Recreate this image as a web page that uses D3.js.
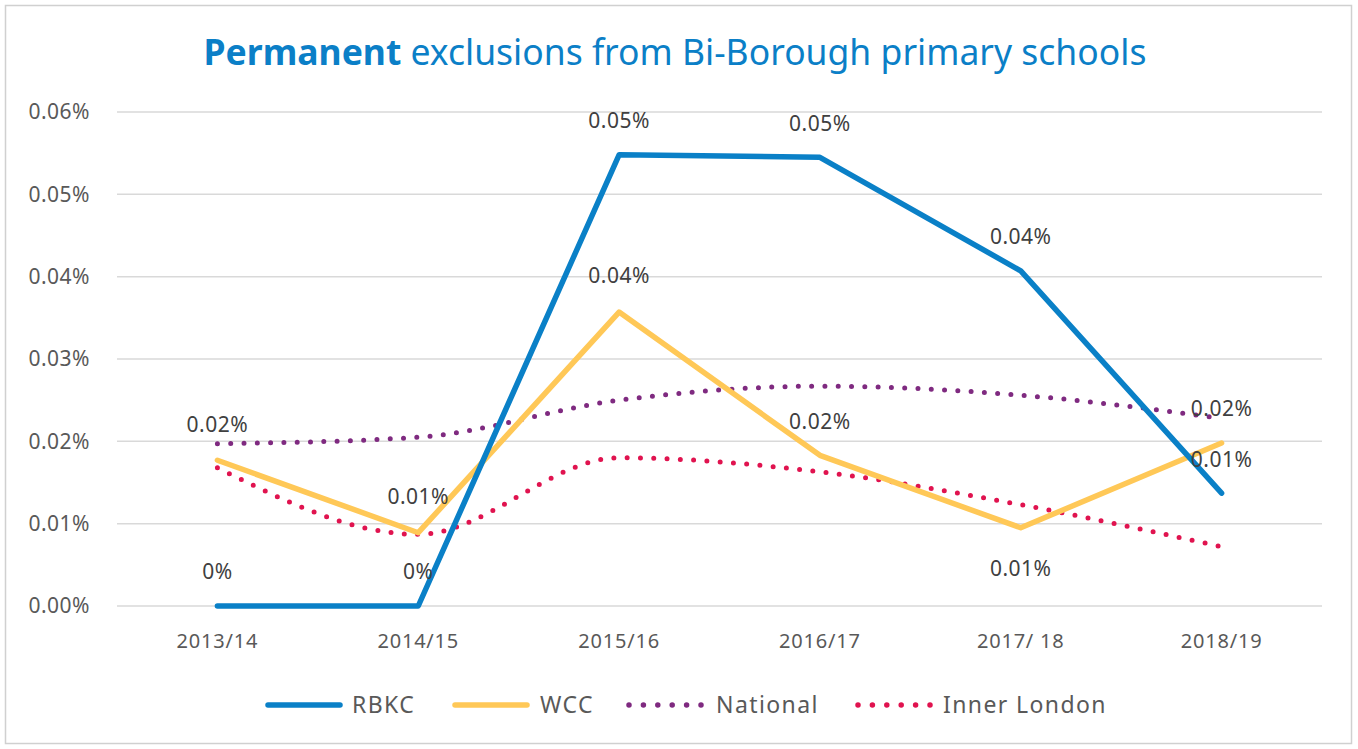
<!DOCTYPE html>
<html>
<head>
<meta charset="utf-8">
<script src="https://cdn.jsdelivr.net/npm/d3@7"></script>
<style>
  body { margin: 0; background: #fff; }
  svg { font-family: "Noto Sans", "Open Sans", sans-serif; }
</style>
</head>
<body>
<div id="chart"></div>
<script>
// data (values in %)
const years = ["2013/14", "2014/15", "2015/16", "2016/17", "2017/ 18", "2018/19"];
const rbkc = [0, 0, 0.0548, 0.0545, 0.0407, 0.0137];
const wcc = [0.0177, 0.0089, 0.0357, 0.0183, 0.0095, 0.0198];
const national = [0.0197, 0.0205, 0.0250, 0.0267, 0.0256, 0.0228];
const innerLondon = [0.0168, 0.0087, 0.0180, 0.0163, 0.0123, 0.0072];
const rbkcLabels = ["0%", "0%", "0.05%", "0.05%", "0.04%", "0.01%"];
const wccLabels = ["0.02%", "0.01%", "0.04%", "0.02%", "0.01%", "0.02%"];
const yTicks = [0, 0.01, 0.02, 0.03, 0.04, 0.05, 0.06];

const W = 1358, H = 749;
const margin = { top: 112, right: 36, bottom: 143, left: 117 };

const svg = d3.select("#chart").append("svg")
  .attr("width", W)
  .attr("height", H);

svg.append("rect")
  .attr("x", 5.5).attr("y", 5.5)
  .attr("width", W - 12).attr("height", H - 11)
  .attr("fill", "#fff")
  .attr("stroke", "#d0d0d0")
  .attr("stroke-width", 1.5);

const x = d3.scalePoint()
  .domain(years)
  .range([margin.left, W - margin.right])
  .padding(0.5);

const y = d3.scaleLinear()
  .domain([0, 0.06])
  .range([H - margin.bottom, margin.top]);

// title
const title = svg.append("text")
  .attr("x", 675).attr("y", 65)
  .attr("text-anchor", "middle")
  .attr("font-size", 35.5)
  .attr("fill", "#0b7fc7");
title.append("tspan").attr("font-weight", "bold").text("Permanent");
title.append("tspan").text(" exclusions from Bi-Borough primary schools");

// gridlines
svg.append("g").selectAll("line")
  .data(yTicks)
  .enter().append("line")
  .attr("x1", margin.left).attr("x2", W - margin.right)
  .attr("y1", d => y(d)).attr("y2", d => y(d))
  .attr("stroke", "#d9d9d9")
  .attr("stroke-width", 1.5);

// y axis labels
svg.append("g").selectAll("text")
  .data(yTicks)
  .enter().append("text")
  .attr("x", 90)
  .attr("y", d => y(d))
  .attr("dy", "0.35em")
  .attr("text-anchor", "end")
  .attr("font-size", 21)
  .attr("letter-spacing", 0.5)
  .attr("fill", "#595959")
  .text(d => d.toFixed(2) + "%");

// x axis labels
svg.append("g").selectAll("text")
  .data(years)
  .enter().append("text")
  .attr("x", d => x(d))
  .attr("y", 641)
  .attr("dy", "0.35em")
  .attr("text-anchor", "middle")
  .attr("font-size", 20)
  .attr("letter-spacing", 0.8)
  .attr("fill", "#595959")
  .text(d => d);

const series = [
  { name: "RBKC", values: rbkc, color: "#0a80c7", dotted: false },
  { name: "WCC", values: wcc, color: "#ffc857", dotted: false },
  { name: "National", values: national, color: "#7f2a80", dotted: true },
  { name: "Inner London", values: innerLondon, color: "#e0134f", dotted: true }
];

const straight = d3.line()
  .x((d, i) => x(years[i]))
  .y(d => y(d));
const smooth = d3.line()
  .x((d, i) => x(years[i]))
  .y(d => y(d))
  .curve(d3.curveMonotoneX);

// draw in back-to-front order like the reference
const order = [3, 2, 1, 0];
order.forEach(k => {
  const s = series[k];
  const p = svg.append("path")
    .datum(s.values)
    .attr("fill", "none")
    .attr("stroke", s.color)
    .attr("stroke-width", s.dotted ? 5 : 5.5)
    .attr("stroke-linecap", "round")
    .attr("stroke-linejoin", "round")
    .attr("d", s.dotted ? smooth : straight);
  if (s.dotted) p.attr("stroke-dasharray", "0 13.3");
});

// data labels
function addLabels(vals, labels, offsets) {
  svg.append("g").selectAll("text")
    .data(vals)
    .enter().append("text")
    .attr("x", (d, i) => x(years[i]))
    .attr("y", (d, i) => y(d) + offsets[i])
    .attr("dy", "0.35em")
    .attr("text-anchor", "middle")
    .attr("font-size", 21)
    .attr("letter-spacing", 0.5)
    .attr("fill", "#404040")
    .text((d, i) => labels[i]);
}
addLabels(rbkc, rbkcLabels, [-34, -34, -34, -34, -34, -34]);
addLabels(wcc, wccLabels, [-36, -36, -36, -34, 41, -34]);

// legend
const legendItems = [
  { s: series[0], x0: 268, tx: 352 },
  { s: series[1], x0: 455, tx: 540 },
  { s: series[2], x0: 629, tx: 716 },
  { s: series[3], x0: 858, tx: 943 }
];
const lg = svg.append("g");
legendItems.forEach(it => {
  const l = lg.append("line")
    .attr("x1", it.x0).attr("x2", it.x0 + 72)
    .attr("y1", 705).attr("y2", 705)
    .attr("stroke", it.s.color)
    .attr("stroke-width", 5.5)
    .attr("stroke-linecap", "round");
  if (it.s.dotted) l.attr("stroke-dasharray", "0 14.4");
  lg.append("text")
    .attr("x", it.tx).attr("y", 705)
    .attr("dy", "0.35em")
    .attr("font-size", 23)
    .attr("letter-spacing", 1.4)
    .attr("fill", "#595959")
    .text(it.s.name);
});
</script>
</body>
</html>
